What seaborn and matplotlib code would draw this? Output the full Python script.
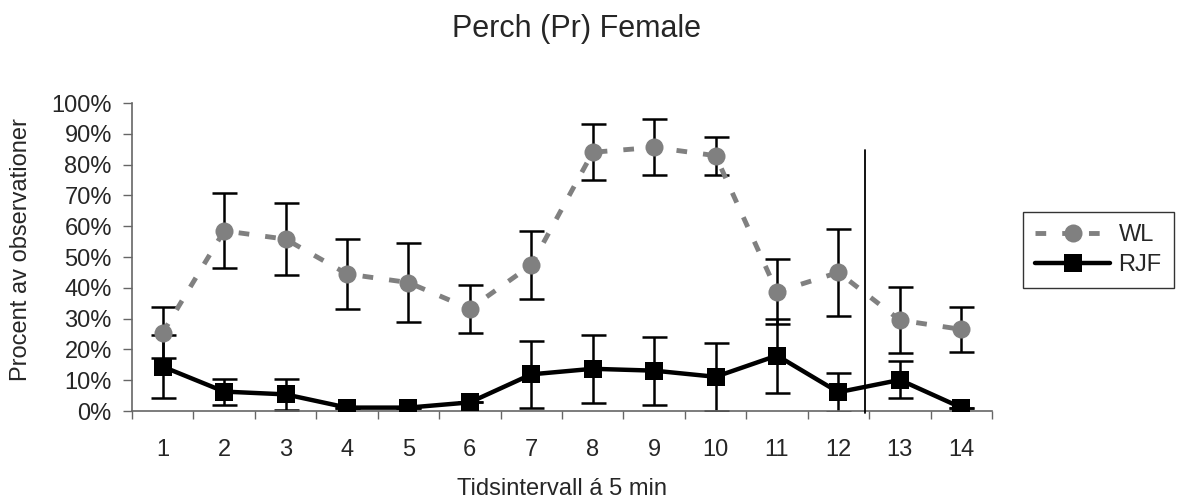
import numpy as np
import pandas as pd
import matplotlib
matplotlib.use("Agg")
import matplotlib.pyplot as plt
import seaborn as sns

# ---- data ----
intervals = list(range(1, 15))
tick_labels = [str(i) for i in intervals]
wl_mean = [25.4, 58.5, 55.8, 44.5, 41.7, 33.2, 47.4, 84.0, 85.6, 82.9, 38.7, 45.0, 29.5, 26.5]
wl_err = [8.3, 12.2, 11.7, 11.5, 12.8, 7.8, 11.0, 9.1, 9.1, 6.2, 10.6, 14.0, 10.8, 7.3]
rjf_mean = [14.4, 6.3, 5.4, 1.1, 1.1, 2.8, 11.9, 13.7, 13.1, 11.1, 18.0, 6.1, 10.1, 1.1]
rjf_err = [10.3, 4.2, 5.0, 0.0, 0.0, 0.0, 10.8, 11.1, 11.0, 11.1, 12.0, 6.3, 6.0, 0.0]
divider_x = 12.44
divider_top = 84.7

sns.set_theme(style="white")
plt.rcParams['font.family'] = ['Liberation Sans', 'DejaVu Sans']

df = pd.DataFrame({
    "interval": intervals * 2,
    "value": [v / 100 for v in wl_mean] + [v / 100 for v in rjf_mean],
    "series": ["WL"] * 14 + ["RJF"] * 14,
})

fig = plt.figure(figsize=(11.78, 5.03), dpi=100)
ax = fig.add_axes([132 / 1178, 1 - 411 / 503, (992 - 132) / 1178, (411 - 103) / 503])

wl = df[df.series == "WL"]
rjf = df[df.series == "RJF"]

# error bars (black), drawn beneath the markers
for m, e in [(wl_mean, wl_err), (rjf_mean, rjf_err)]:
    eb = ax.errorbar(intervals, np.array(m) / 100, yerr=np.array(e) / 100, fmt="none",
                     ecolor="black", elinewidth=1.8, capsize=9, capthick=1.8)
    for c in eb.lines[1]:
        c.set_zorder(1)
    for c in eb.lines[2]:
        c.set_zorder(1)

sns.lineplot(data=wl, x="interval", y="value", ax=ax, color="#808080", linewidth=3.5,
             marker="o", markersize=13, markeredgewidth=0, markerfacecolor="#808080",
             dashes=False, label="WL", zorder=3)
ax.lines[-1].set_dashes((2.2, 3.3))
sns.lineplot(data=rjf, x="interval", y="value", ax=ax, color="black", linewidth=3.2,
             marker="s", markersize=13.5, markeredgewidth=0, markerfacecolor="black",
             label="RJF", zorder=4)

# vertical divider
ax.plot([divider_x, divider_x], [-0.006, divider_top / 100], color="black", lw=1.3,
        clip_on=False, zorder=5)

FS = 17
ax.set_xlim(0.5, 14.5)
ax.set_ylim(0, 1)
ax.set_xticks(intervals)
ax.set_xticklabels(tick_labels, fontsize=FS)
ax.set_xticks(np.arange(0.5, 14.6, 1), minor=True)
ax.tick_params(axis="x", which="major", length=0, pad=20)
ax.tick_params(axis="x", which="minor", length=6, width=1, color="#666666", direction="out", bottom=True)
ax.set_yticks(np.arange(0, 1.01, 0.1))
ax.set_yticklabels([f"{int(round(v*100))}%" for v in np.arange(0, 1.01, 0.1)], fontsize=FS)
ax.tick_params(axis="y", length=6.5, width=1, color="#666666", direction="out", left=True, pad=8)

for s in ["top", "right"]:
    ax.spines[s].set_visible(False)
for s in ["left", "bottom"]:
    ax.spines[s].set_color("#666666")
    ax.spines[s].set_linewidth(1.2)

ax.set_xlabel("")
ax.set_ylabel("")
fig.text(562 / 1178, 1 - 489 / 503, "Tidsintervall á 5 min", ha="center", va="center", fontsize=FS)
fig.text(21 / 1178, 1 - 250 / 503, "Procent av observationer", ha="center", va="center",
         rotation=90, fontsize=FS)
fig.text(577 / 1178, 1 - 29 / 503, "Perch (Pr) Female", ha="center", va="center", fontsize=22)

leg = ax.legend(loc="center left", bbox_to_anchor=(1023 / 1178, 1 - 250 / 503),
                bbox_transform=fig.transFigure, frameon=True, fancybox=False,
                edgecolor="black", fontsize=FS, handlelength=3.2, handletextpad=0.35,
                borderpad=0.5, labelspacing=0.35, borderaxespad=0)
leg.get_frame().set_linewidth(1.0)

fig.savefig("out.png", dpi=100)
